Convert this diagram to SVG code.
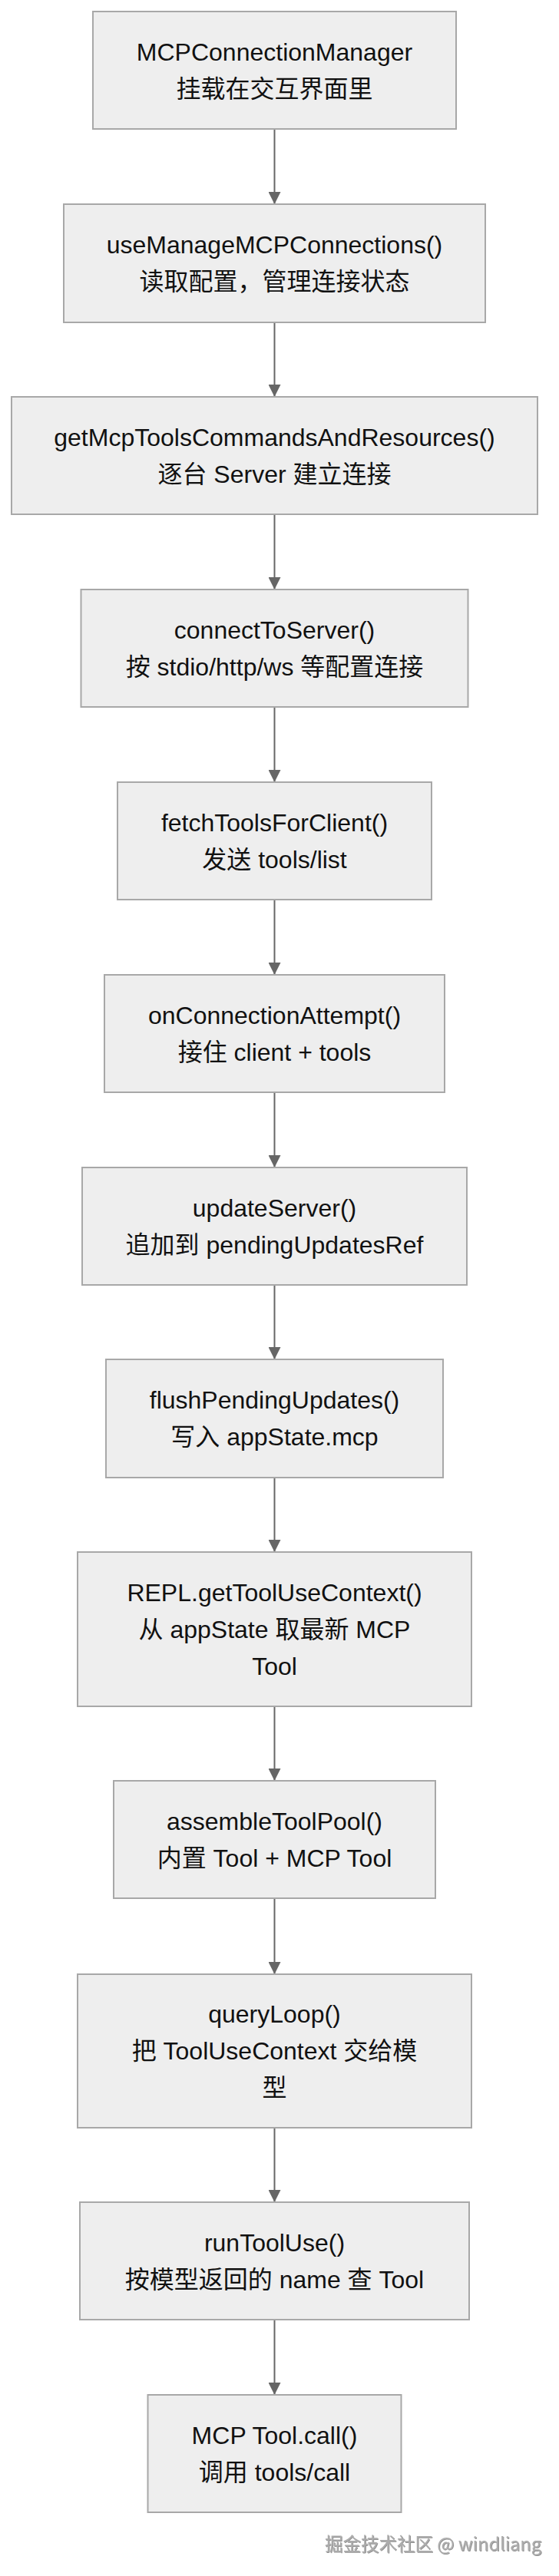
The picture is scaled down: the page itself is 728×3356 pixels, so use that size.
<svg xmlns="http://www.w3.org/2000/svg" width="728" height="3356" viewBox="0 0 728 3356">
<style>
.box{fill:#eeeeee;stroke:#a8a8a8;stroke-width:2}
.t{font-family:"Liberation Sans","Noto Sans CJK SC",sans-serif;font-size:32px;fill:#111;text-anchor:middle}
.edge{stroke:#666;stroke-width:2;fill:none}
.wm{font-family:"Noto Sans CJK SC","Liberation Sans",sans-serif;font-size:23.5px;fill:#acacac}
</style>
<defs>
<marker id="ah" markerUnits="userSpaceOnUse" markerWidth="16" markerHeight="16" refX="16" refY="8" orient="auto" viewBox="0 0 16 16">
<path d="M0,0 L16,8 L0,16 z" fill="#666"/>
</marker>
<filter id="sh" x="-5%" y="-20%" width="110%" height="140%">
<feDropShadow dx="1" dy="1" stdDeviation="0.4" flood-color="#444" flood-opacity="0.6"/>
</filter>
</defs>
<g id="connectors">
<path class="edge" d="M357.5,168 V266" marker-end="url(#ah)"/>
<path class="edge" d="M357.5,420 V517" marker-end="url(#ah)"/>
<path class="edge" d="M357.5,670 V768" marker-end="url(#ah)"/>
<path class="edge" d="M357.5,921 V1019" marker-end="url(#ah)"/>
<path class="edge" d="M357.5,1172 V1270" marker-end="url(#ah)"/>
<path class="edge" d="M357.5,1423 V1521" marker-end="url(#ah)"/>
<path class="edge" d="M357.5,1674 V1771" marker-end="url(#ah)"/>
<path class="edge" d="M357.5,1925 V2022" marker-end="url(#ah)"/>
<path class="edge" d="M357.5,2223 V2320" marker-end="url(#ah)"/>
<path class="edge" d="M357.5,2473 V2572" marker-end="url(#ah)"/>
<path class="edge" d="M357.5,2772 V2869" marker-end="url(#ah)"/>
<path class="edge" d="M357.5,3022 V3120" marker-end="url(#ah)"/>
</g>
<g id="n1"><rect class="box" x="121" y="15" width="473" height="153"/>
<text class="t" x="357.5" y="78.5">MCPConnectionManager</text><text class="t" x="357.5" y="126.5">挂载在交互界面里</text></g>
<g id="n2"><rect class="box" x="83" y="266" width="549" height="154"/>
<text class="t" x="357.5" y="330">useManageMCPConnections()</text><text class="t" x="357.5" y="378">读取配置，管理连接状态</text></g>
<g id="n3"><rect class="box" x="15" y="517" width="685" height="153"/>
<text class="t" x="357.5" y="580.5">getMcpToolsCommandsAndResources()</text><text class="t" x="357.5" y="628.5">逐台 Server 建立连接</text></g>
<g id="n4"><rect class="box" x="105.5" y="768" width="504" height="153"/>
<text class="t" x="357.5" y="831.5">connectToServer()</text><text class="t" x="357.5" y="879.5">按 stdio/http/ws 等配置连接</text></g>
<g id="n5"><rect class="box" x="153" y="1019" width="409" height="153"/>
<text class="t" x="357.5" y="1082.5">fetchToolsForClient()</text><text class="t" x="357.5" y="1130.5">发送 tools/list</text></g>
<g id="n6"><rect class="box" x="136" y="1270" width="443" height="153"/>
<text class="t" x="357.5" y="1333.5">onConnectionAttempt()</text><text class="t" x="357.5" y="1381.5">接住 client + tools</text></g>
<g id="n7"><rect class="box" x="107" y="1521" width="501" height="153"/>
<text class="t" x="357.5" y="1584.5">updateServer()</text><text class="t" x="357.5" y="1632.5">追加到 pendingUpdatesRef</text></g>
<g id="n8"><rect class="box" x="138" y="1771" width="439" height="154"/>
<text class="t" x="357.5" y="1835">flushPendingUpdates()</text><text class="t" x="357.5" y="1883">写入 appState.mcp</text></g>
<g id="n9"><rect class="box" x="101" y="2022" width="513" height="201"/>
<text class="t" x="357.5" y="2085.5">REPL.getToolUseContext()</text><text class="t" x="357.5" y="2133.5">从 appState 取最新 MCP</text><text class="t" x="357.5" y="2181.5">Tool</text></g>
<g id="n10"><rect class="box" x="148" y="2320" width="419" height="153"/>
<text class="t" x="357.5" y="2383.5">assembleToolPool()</text><text class="t" x="357.5" y="2431.5">内置 Tool + MCP Tool</text></g>
<g id="n11"><rect class="box" x="101" y="2572" width="513" height="200"/>
<text class="t" x="357.5" y="2635">queryLoop()</text><text class="t" x="357.5" y="2683">把 ToolUseContext 交给模</text><text class="t" x="357.5" y="2731">型</text></g>
<g id="n12"><rect class="box" x="104" y="2869" width="507" height="153"/>
<text class="t" x="357.5" y="2932.5">runToolUse()</text><text class="t" x="357.5" y="2980.5">按模型返回的 name 查 Tool</text></g>
<g id="n13"><rect class="box" x="192.5" y="3120" width="330" height="153"/>
<text class="t" x="357.5" y="3183.5">MCP Tool.call()</text><text class="t" x="357.5" y="3231.5">调用 tools/call</text></g>
<text class="wm" x="423" y="3323" filter="url(#sh)">掘金技术社区 @ windliang</text>
</svg>
